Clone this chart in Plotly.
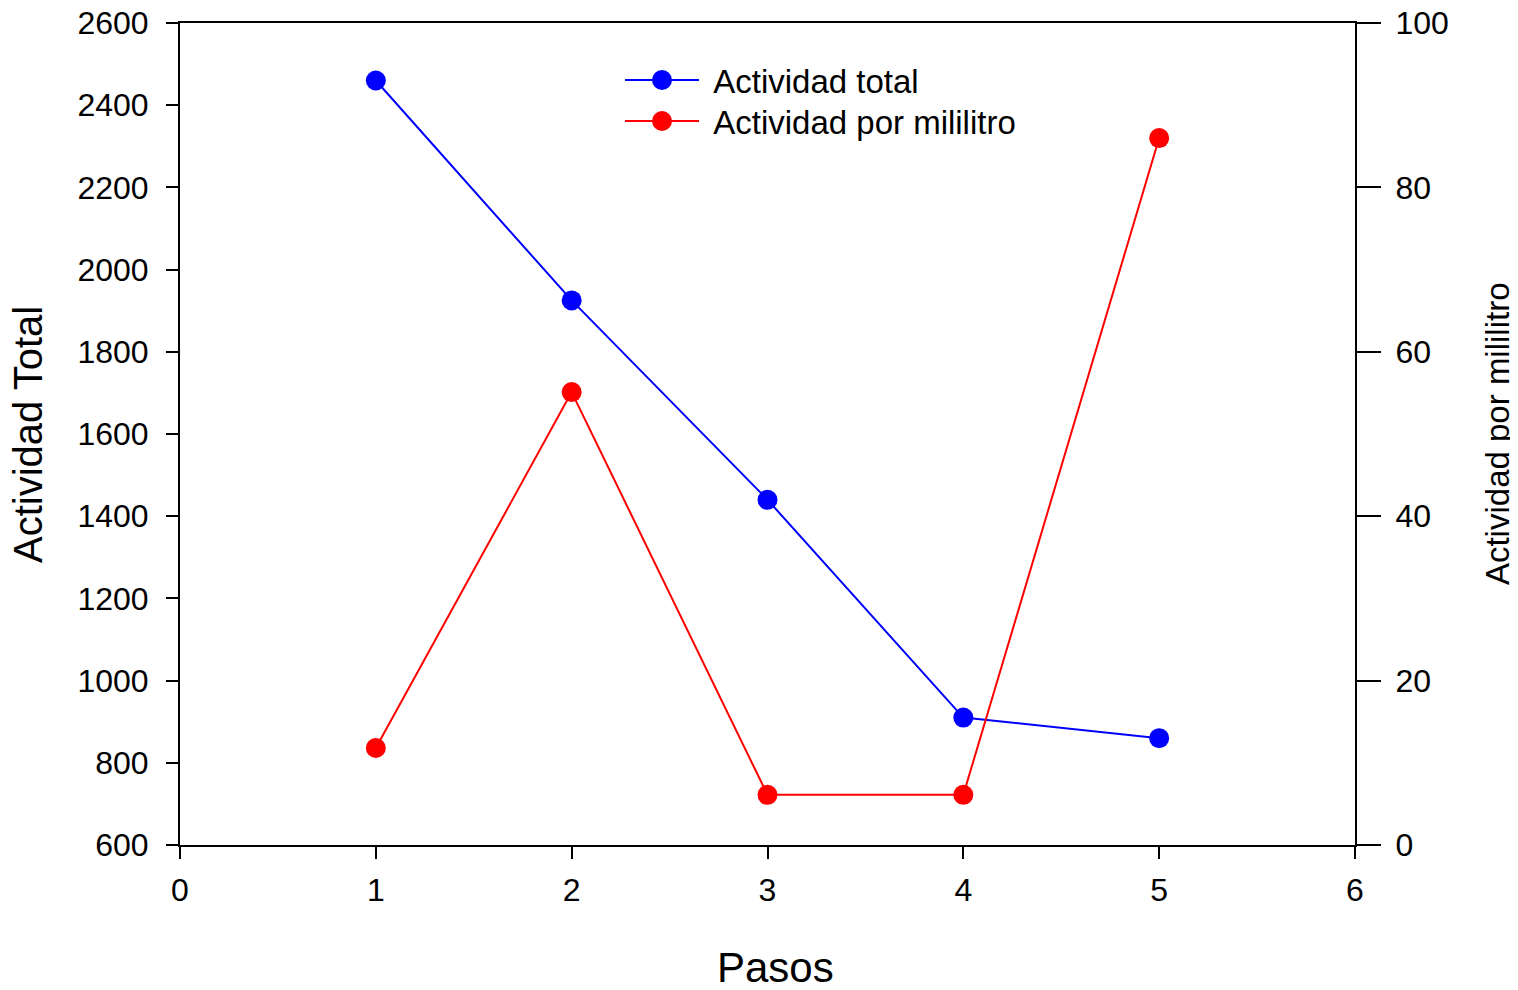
import plotly.graph_objects as go

pasos = [1, 2, 3, 4, 5]
actividad_total = [2460, 1925, 1440, 910, 860]
actividad_ml = [11.8, 55.1, 6.1, 6.1, 86.0]

FONT = "Liberation Sans, Arial, sans-serif"
NB = "\u00a0"
BLUE = "#0000ff"
RED = "#ff0000"

fig = go.Figure()
fig.add_trace(go.Scatter(
    x=pasos, y=actividad_total, name=NB + "Actividad total", mode="lines+markers",
    line=dict(color=BLUE, width=2), marker=dict(color=BLUE, size=20),
    yaxis="y", legend="legend"))
fig.add_trace(go.Scatter(
    x=pasos, y=actividad_ml, name=NB + "Actividad por mililitro", mode="lines+markers",
    line=dict(color=RED, width=2), marker=dict(color=RED, size=20),
    yaxis="y2", legend="legend2"))

axis_common = dict(showgrid=False, zeroline=False, showline=True, linecolor="black",
                   linewidth=2, ticks="outside", tickwidth=2, ticklabeloverflow="allow",
                   tickcolor="black", tickfont=dict(family=FONT, size=32, color="black"))

LEG_X = 0.3745
LEG_Y1 = 0.9307
LEG_Y2 = 0.8808
leg_common = dict(x=LEG_X, xanchor="left", yanchor="middle",
                  bgcolor="rgba(0,0,0,0)", font=dict(family=FONT, size=33, color="black"),
                  itemwidth=74)

# enlarge the legend symbols (plotly caps legend marker size)
MARK_X = 0.41021
legend_dots = [
    dict(type="circle", xref="paper", yref="paper", xsizemode="pixel", ysizemode="pixel",
         xanchor=MARK_X, yanchor=yy, x0=-10, x1=10, y0=-10, y1=10,
         fillcolor=c, line=dict(width=0), layer="above")
    for yy, c in [(LEG_Y1, BLUE), (LEG_Y2, RED)]
]

fig.update_layout(
    width=1518, height=990,
    paper_bgcolor="white", plot_bgcolor="white",
    margin=dict(l=172, r=171, t=15, b=153, autoexpand=False),
    font=dict(family=FONT, color="black"),
    showlegend=True,
    legend=dict(y=LEG_Y1, **leg_common),
    legend2=dict(y=LEG_Y2, **leg_common),
    xaxis=dict(range=[0, 6], dtick=1, tick0=0, mirror=True, ticklen=12,
               ticklabelstandoff=4, **axis_common),
    yaxis=dict(range=[600, 2600], dtick=200, tick0=600, ticklen=12,
               ticklabelstandoff=11, **axis_common),
    yaxis2=dict(range=[0, 100], dtick=20, tick0=0, overlaying="y", side="right",
                ticklen=24, ticklabelstandoff=8, **axis_common),
    shapes=legend_dots,
    annotations=[
        dict(text="Pasos", xref="paper", yref="paper", x=0.5064, y=-0.1496,
             yanchor="middle", showarrow=False, font=dict(family=FONT, size=42)),
        dict(text="Actividad Total", xref="paper", yref="paper", x=-0.1294, y=0.5,
             xanchor="center", yanchor="middle", textangle=-90, showarrow=False,
             font=dict(family=FONT, size=40)),
        dict(text="Actividad por mililitro", xref="paper", yref="paper", x=1.1209, y=0.5,
             xanchor="center", yanchor="middle", textangle=-90, showarrow=False,
             font=dict(family=FONT, size=33)),
    ],
)

fig.write_html("out.html")
